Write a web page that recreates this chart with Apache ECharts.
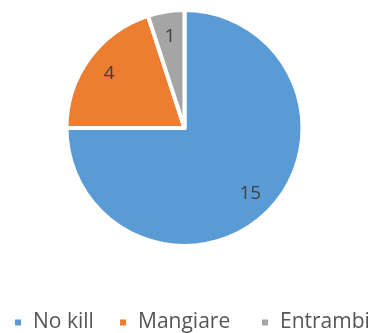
<!DOCTYPE html>
<html>
<head>
<meta charset="utf-8">
<script src="https://cdn.jsdelivr.net/npm/echarts@6/dist/echarts.min.js"></script>
<style>
  html, body { margin: 0; padding: 0; background: #fff; }
  #chart { width: 368px; height: 333px; }
</style>
</head>
<body>
<div id="chart"></div>
<script>
// Categories and counts
const categories = ['No kill', 'Mangiare', 'Entrambi'];
const counts = [15, 4, 1];
const colors = ['#5B9BD5', '#ED7D31', '#A5A5A5'];

const pieData = categories.map((name, i) => ({ name, value: counts[i] }));

const center = [184.5, 128];
const font = '"Open Sans", "Noto Sans", sans-serif';

const legendLefts = [13, 118, 260];
const legends = categories.map((name, i) => ({
  data: [name],
  left: legendLefts[i],
  top: 312,
  padding: 0,
  icon: 'rect',
  itemWidth: 8,
  itemHeight: 8,
  textStyle: { fontFamily: font, fontSize: 21, color: '#555555', padding: [0, 0, 0, 6] }
}));

const chart = echarts.init(document.getElementById('chart'), null, { renderer: 'canvas' });
chart.setOption({
  animation: false,
  color: colors,
  legend: legends,
  series: [
    {
      type: 'pie',
      center: center,
      radius: [0, 118],
      startAngle: 90,
      clockwise: true,
      silent: true,
      itemStyle: { borderColor: '#ffffff', borderWidth: 4 },
      label: { show: false },
      labelLine: { show: false },
      data: pieData
    },
    {
      // transparent ring that carries the value labels
      type: 'pie',
      center: center,
      radius: [64, 116],
      startAngle: 90,
      clockwise: true,
      silent: true,
      itemStyle: { color: 'rgba(0,0,0,0)' },
      label: {
        show: true,
        position: 'inside',
        formatter: '{c}',
        fontFamily: font,
        fontSize: 19,
        color: '#404040'
      },
      labelLine: { show: false },
      data: pieData
    }
  ]
});
</script>
</body>
</html>
